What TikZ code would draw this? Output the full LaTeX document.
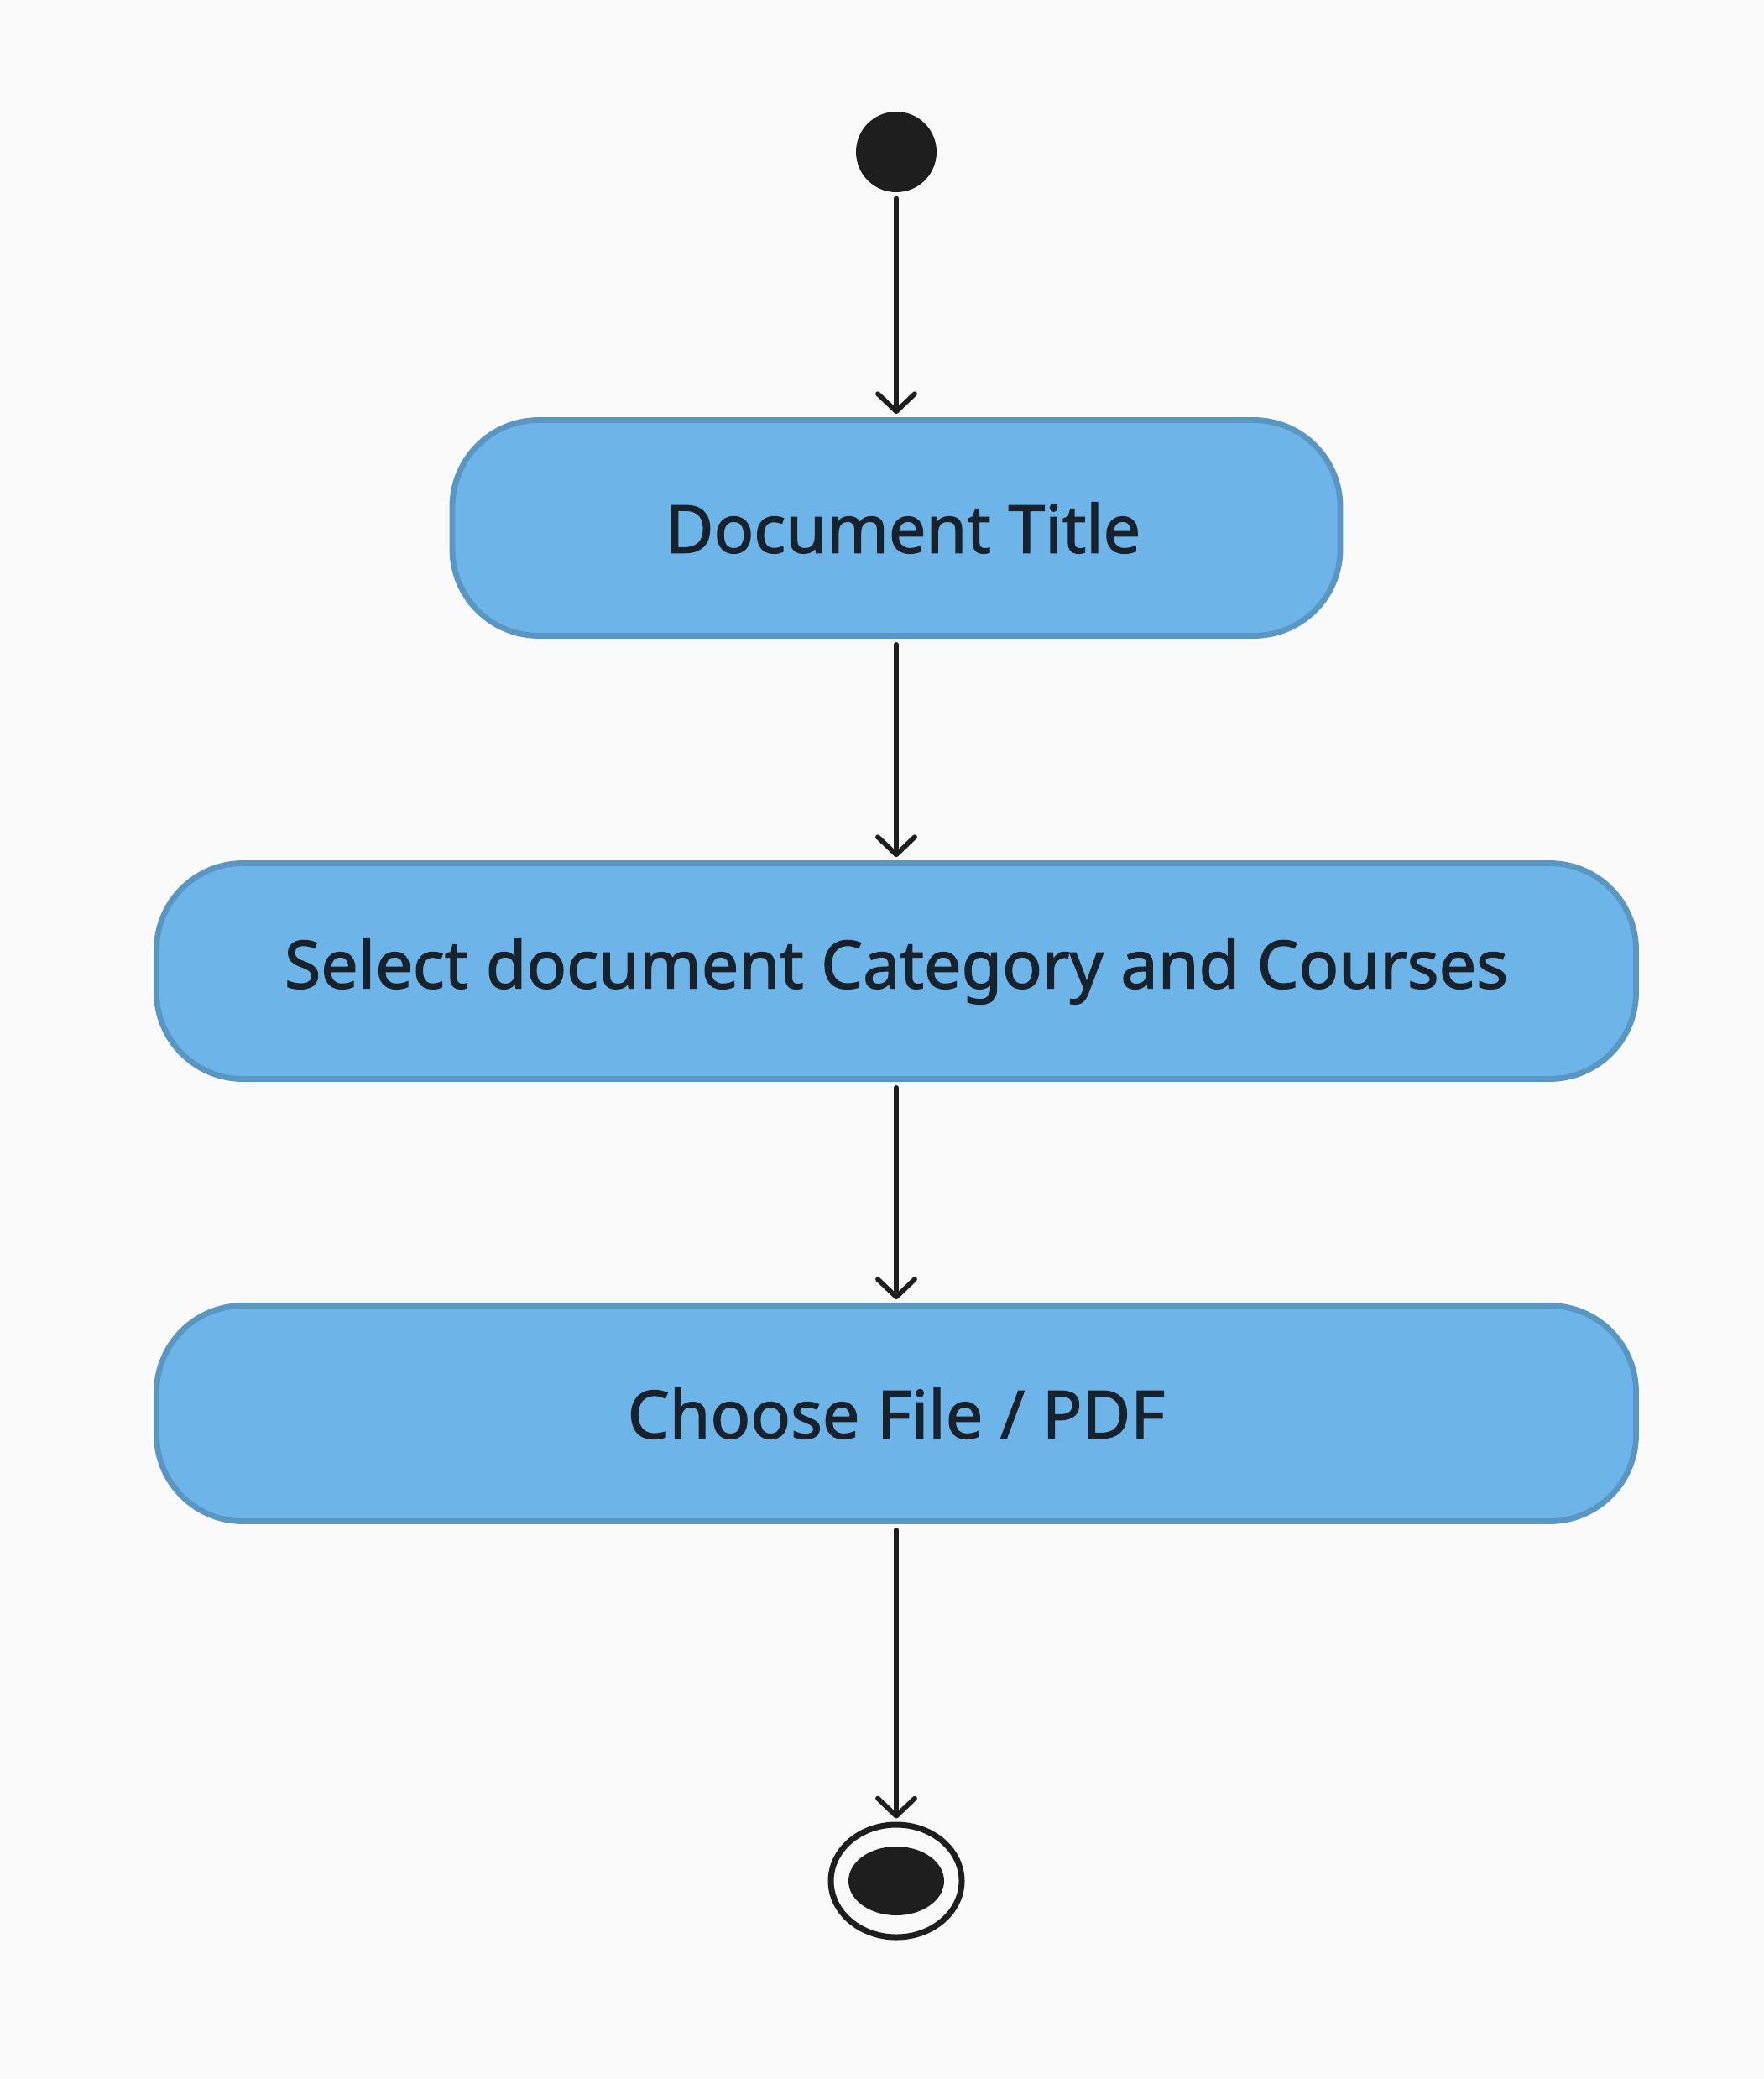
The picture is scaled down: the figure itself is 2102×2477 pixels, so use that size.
\documentclass[tikz,border=0pt]{standalone}
\usepackage{fontspec}
\setmainfont{Noto Sans}
\newfontfamily\labelfont{Noto Sans}[FakeBold=1.6]
\usetikzlibrary{arrows.meta,shapes.geometric}
\definecolor{bg}{HTML}{FAFAFA}
\definecolor{boxfill}{HTML}{6DB4E9}
\definecolor{boxline}{HTML}{5A96C2}
\definecolor{ink}{HTML}{1E1E1E}
\definecolor{txt}{HTML}{17222D}
\tikzset{
  actbox/.style={draw=boxline, fill=boxfill, line width=3.4pt, rounded corners=51.5pt,
    minimum height=128.5pt, text=txt, font=\labelfont\fontsize{39.5}{48}\selectfont, inner sep=0pt},
  flow/.style={draw=ink, line width=2.9pt, line cap=round,
    -{Straight Barb[length=10.5pt,width=22pt,round]}, shorten <=3.5pt, shorten >=2pt},
}
\begin{document}
\begin{tikzpicture}[x=0.5pt,y=-0.5pt]
\fill[bg] (0,0) rectangle (2102,2477);
\useasboundingbox (0,0) rectangle (2102,2477);
\node[circle, fill=ink, minimum size=48pt, inner sep=0pt] (start) at (1068,181) {};
\node[actbox, minimum width=529pt] (b1) at (1068,629) {\hspace{8pt}Document Title};
\node[actbox, minimum width=881.5pt] (b2) at (1068,1157) {Select document Category and Courses};
\node[actbox, minimum width=881.5pt] (b3) at (1068,1684) {Choose File / PDF};
\node[ellipse, draw=ink, line width=3.5pt, fill=bg, minimum width=78pt, minimum height=67pt, inner sep=0pt] (end) at (1068,2241) {};
\node[ellipse, fill=ink, minimum width=57pt, minimum height=41pt, inner sep=0pt] (endin) at (1068,2241) {};
\draw[flow] (start) -- (b1);
\draw[flow] (b1) -- (b2);
\draw[flow] (b2) -- (b3);
\draw[flow] (b3) -- (end);
\end{tikzpicture}
\end{document}
